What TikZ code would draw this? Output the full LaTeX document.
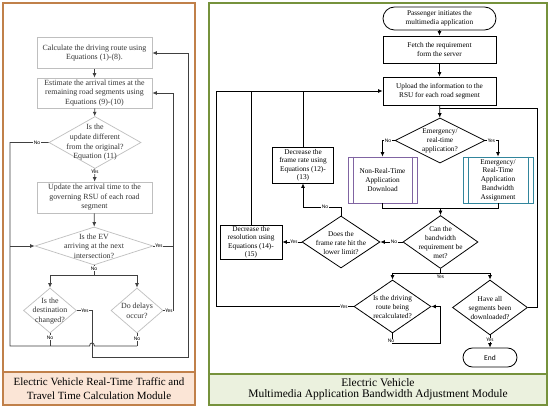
\documentclass[tikz,border=0pt]{standalone}
\usepackage{fontspec}
\setmainfont{Liberation Serif}
\newfontfamily\lab{Carlito}
\usetikzlibrary{shapes.geometric,arrows.meta}
\definecolor{lgray}{HTML}{BFBFBF}
\definecolor{ltext}{HTML}{333333}
\definecolor{lline}{HTML}{404040}
\definecolor{lbord}{HTML}{C0804A}
\definecolor{lcap}{HTML}{FBE5D6}
\definecolor{rbord}{HTML}{76923C}
\definecolor{rcap}{HTML}{EBF1DE}
\definecolor{purp}{HTML}{8064A2}
\definecolor{teal2}{HTML}{31859C}
\begin{document}
\begin{tikzpicture}[x=1pt,y=-1pt,
 lbox/.style={draw=lgray,line width=0.7pt,text=ltext,align=center,inner sep=0pt,font=\fontsize{7.9}{9.6}\selectfont},
 ldia/.style={diamond,draw=lgray,line width=0.7pt,inner sep=0pt},
 ltxt/.style={text=ltext,align=center,inner sep=0pt,font=\fontsize{7.9}{9.6}\selectfont},
 rbox/.style={draw=black,line width=0.8pt,align=center,inner sep=0pt,font=\fontsize{7.3}{9}\selectfont},
 rdia/.style={diamond,draw=black,line width=0.8pt,inner sep=0pt},
 rtxt/.style={align=center,inner sep=0pt,font=\fontsize{7.3}{9}\selectfont},
 lcon/.style={draw=lline,line width=0.8pt},
 rcon/.style={draw=black,line width=0.8pt},
 arr/.style={-{Latex[length=4.5pt,width=4pt]}},
 yn/.style={font=\lab\fontsize{5.5}{5.5}\selectfont,fill=white,inner sep=0.5pt},
 captxt/.style={align=center,inner sep=0pt,font=\fontsize{11}{14}\selectfont},
]
\useasboundingbox (0,0) rectangle (550,409);
% ---------- panels
\draw[draw=lbord,line width=1.4pt,fill=white] (3,3) rectangle (195,405);
\draw[draw=lbord,line width=1.4pt,fill=lcap] (3,372) rectangle (195,405);
\node[captxt] (lcaption) at (99,388.5) {Electric Vehicle Real-Time Traffic and\\Travel Time Calculation Module};
\draw[draw=rbord,line width=1.4pt,fill=white] (209,3) rectangle (547,405);
\draw[draw=rbord,line width=1.4pt,fill=rcap] (209,374) rectangle (547,405);
\node[captxt,font=\fontsize{11.5}{11}\selectfont] (rcaption) at (378,389) {Electric Vehicle\\Multimedia Application Bandwidth Adjustment Module};

% ---------- left nodes
\node[lbox,minimum width=115pt,minimum height=31pt] (b1) at (94.5,53) {Calculate the driving route using\\Equations (1)-(8).};
\node[lbox,minimum width=115pt,minimum height=30pt] (b2) at (94.5,93) {Estimate the arrival times at the\\remaining road segments using\\Equations (9)-(10)};
\node[ldia,minimum width=92pt,minimum height=52pt] (d1) at (95,142.5) {};
\node[ltxt] (d1t) at (95,142.5) {Is the\\update different\\from the original?\\Equation (11)};
\node[lbox,minimum width=115pt,minimum height=31pt] (b3) at (94.5,197.5) {Update the arrival time to the\\governing RSU of each road\\segment};
\node[ldia,minimum width=118pt,minimum height=38pt] (d2) at (94,246) {};
\node[ltxt] (d2t) at (94,246) {Is the EV\\arriving at the next\\intersection?};
\node[ldia,minimum width=53pt,minimum height=45pt] (d3) at (50,310.5) {};
\node[ltxt] (d3t) at (50,311) {Is the\\destination\\changed?};
\node[ldia,minimum width=52pt,minimum height=45pt] (d4) at (137,310.5) {};
\node[ltxt] (d4t) at (137,311) {Do delays\\occur?};

% ---------- left connectors
\draw[lcon,arr] (b1) -- (b2);
\draw[lcon,arr] (b2) -- (d1);
\draw[lcon,arr] (d1) -- (b3);
\node[yn] (y1) at (95,172) {Yes};
\draw[lcon,arr] (b3) -- (d2);
\draw[lcon] (d1.west) -- (10,142.5) -- (10,346) -- (89.5,346) .. controls (89.5,342) and (94.5,342) .. (94.5,346) -- (137,346);
\node[yn] (n1) at (37,142.5) {No};
\coordinate (jl) at (10,246);
\draw[lcon,arr] (jl) -- (d2.west);
\draw[lcon] (d2.south) -- (94,275);
\node[yn] (n2) at (94,268.5) {No};
\coordinate (jd) at (50,275);
\coordinate (je) at (137,275);
\draw[lcon] (jd) -- (je);
\draw[lcon,arr] (jd) -- (d3.north);
\draw[lcon,arr] (je) -- (d4.north);
\draw[lcon] (d3.south) -- (50,346);
\node[yn] (n3) at (50,337.5) {No};
\draw[lcon] (d4.south) -- (137,346);
\node[yn] (n4) at (137,338.5) {No};
\draw[lcon,arr] (d3.east) -- (92,310.5) -- (92,357) -- (188,357) -- (188,53) -- (b1.east);
\node[yn] (y3) at (85,310.5) {Yes};
\draw[lcon,arr] (d4.east) -- (173,310.5) -- (173,93) -- (b2.east);
\node[yn] (y4) at (169,310.5) {Yes};
\draw[lcon] (d2.east) -- (173,246);
\node[yn] (y2) at (159,246) {Yes};

% ---------- right nodes
\node[rbox,rounded corners=11.5pt,minimum width=113pt,minimum height=23pt] (s) at (439.5,18.5) {Passenger initiates the\\multimedia application};
\node[rbox,minimum width=113pt,minimum height=27pt] (f) at (439.5,49.5) {Fetch the requirement\\form the server};
\node[rbox,minimum width=113pt,minimum height=28pt] (u) at (439.5,91) {Upload the information to the\\RSU for each road segment};
\node[rdia,minimum width=90pt,minimum height=45pt] (e) at (440,140.5) {};
\node[rtxt] (et) at (440,141) {Emergency/\\real-time\\application?};
\node[rbox,draw=purp,minimum width=69pt,minimum height=46pt] (nrt) at (382.5,180) {Non-Real-Time\\Application\\Download};
\draw[draw=purp,line width=0.8pt] ([xshift=5.5pt]nrt.north west) -- ([xshift=5.5pt]nrt.south west);
\draw[draw=purp,line width=0.8pt] ([xshift=-5.5pt]nrt.north east) -- ([xshift=-5.5pt]nrt.south east);
\node[rbox,draw=teal2,minimum width=70pt,minimum height=46pt,font=\fontsize{7.3}{8.8}\selectfont] (ert) at (498,180) {Emergency/\\Real-Time\\Application\\Bandwidth\\Assignment};
\draw[draw=teal2,line width=0.8pt] ([xshift=5.5pt]ert.north west) -- ([xshift=5.5pt]ert.south west);
\draw[draw=teal2,line width=0.8pt] ([xshift=-5.5pt]ert.north east) -- ([xshift=-5.5pt]ert.south east);
\node[rdia,minimum width=75pt,minimum height=53pt] (bw) at (440.5,242) {};
\node[rtxt] (bwt) at (440.5,242.5) {Can the\\bandwidth\\requirement be\\met?};
\node[rdia,minimum width=78pt,minimum height=52pt] (fr) at (341,242) {};
\node[rtxt] (frt) at (341,243) {Does the\\frame rate hit the\\lower limit?};
\node[rbox,minimum width=62pt,minimum height=34pt,font=\fontsize{7.3}{8.5}\selectfont] (res) at (251,242) {Decrease the\\resolution using\\Equations (14)-\\(15)};
\node[rbox,minimum width=61pt,minimum height=36pt,font=\fontsize{7.3}{8.5}\selectfont] (frb) at (303,165) {Decrease the\\frame rate using\\Equations (12)-\\(13)};
\node[rdia,minimum width=77pt,minimum height=53pt] (rt) at (392.5,306.5) {};
\node[rtxt] (rtt) at (392.5,307) {Is the driving\\route being\\recalculated?};
\node[rdia,minimum width=75pt,minimum height=55pt] (ha) at (490,307.5) {};
\node[rtxt] (hat) at (490,308) {Have all\\segments been\\downloaded?};
\node[rbox,rounded corners=9.5pt,minimum width=54pt,minimum height=19pt,font=\lab\fontsize{7.5}{9}\selectfont] (end) at (490,357.5) {End};

% ---------- right connectors
\draw[rcon,arr] (s) -- (f);
\draw[rcon,arr] (f) -- (u);
\draw[rcon,arr] (u) -- (e);
\draw[rcon] (ha.east) -- (537,307.5) -- (537,108) -- (440,108);
\draw[rcon,arr] (e.west) -- (382.5,140.5) -- (nrt.north);
\node[yn] (n5) at (388,140.5) {No};
\draw[rcon,arr] (e.east) -- (498,140.5) -- (ert.north);
\node[yn] (y5) at (491.5,140.5) {Yes};
\coordinate (jb) at (440.5,208);
\draw[rcon] (nrt.south) -- (382.5,208) -- (498,208) -- (ert.south);
\draw[rcon,arr] (jb) -- (bw.north);
\draw[rcon,arr] (bw.west) -- (fr.east);
\node[yn] (n6) at (394,242) {No};
\draw[rcon,arr] (fr.west) -- (res.east);
\node[yn] (y6) at (294,242) {Yes};
\draw[rcon,arr] (fr.north) -- (341,207) -- (303,207) -- (frb.south);
\node[yn] (n7) at (325,207) {No};
\draw[rcon] (frb.north) -- (303,91);
\draw[rcon] (res.north) -- (251,91);
\draw[rcon,arr] (rt.west) -- (216,306.5) -- (216,91) -- (u.west);
\node[yn] (y7) at (344,306.5) {Yes};
\draw[rcon] (bw.south) -- (440.5,273);
\node[font=\lab\fontsize{5.5}{5.5}\selectfont,inner sep=0pt] (y8) at (440.5,276.5) {Yes};
\coordinate (jr) at (392.5,273);
\coordinate (jh) at (490,273);
\draw[rcon] (jr) -- (jh);
\draw[rcon,arr] (jr) -- (rt.north);
\draw[rcon,arr] (jh) -- (ha.north);
\draw[rcon,arr] (rt.south) -- (392.5,343) -- (440,343) -- (440,306.5) -- (rt.east);
\node[yn] (n8) at (391,341) {No};
\draw[rcon,arr] (ha) -- (end);
\node[yn] (y9) at (490,340) {Yes};
\end{tikzpicture}
\end{document}
